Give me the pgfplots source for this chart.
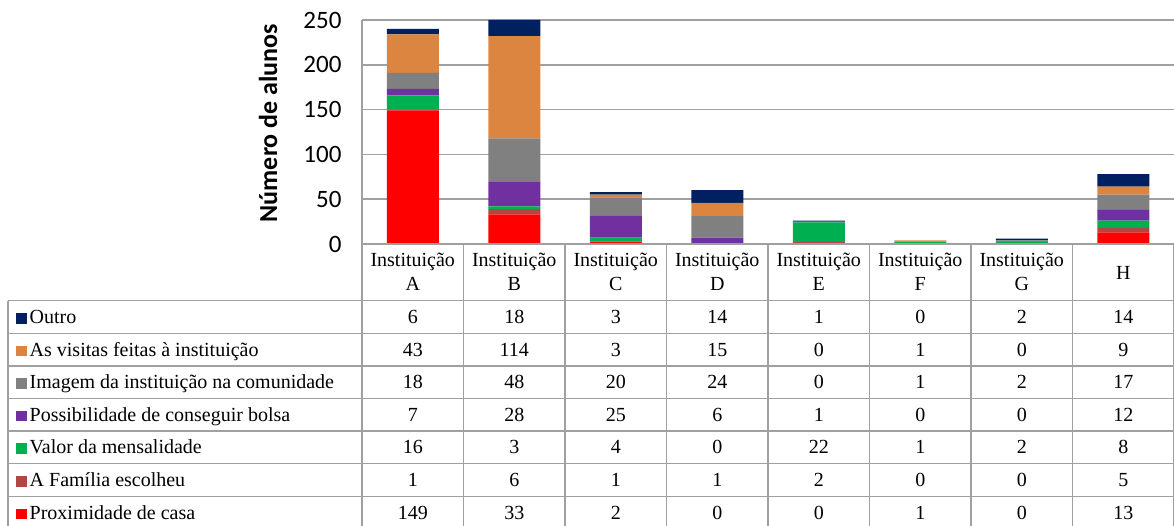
\documentclass[border=0pt]{standalone}
\usepackage{pgfplots}
\usepackage{pgfplotstable}
\pgfplotsset{compat=1.18}
\usepackage{fontspec}
\setmainfont{Liberation Serif}
\newfontfamily\calibri{Carlito}
\definecolor{cOutro}{RGB}{0,32,96}
\definecolor{cVis}{RGB}{220,133,65}
\definecolor{cImg}{RGB}{128,128,128}
\definecolor{cPoss}{RGB}{112,48,160}
\definecolor{cValor}{RGB}{0,176,80}
\definecolor{cFam}{RGB}{178,70,66}
\definecolor{cProx}{RGB}{255,0,0}
\definecolor{gridc}{RGB}{160,160,160}
\pgfplotstableread{
x prox fam valor poss img vis outro
0 149 1 16 7 18 43 6
1 33 6 3 28 48 114 18
2 2 1 4 25 20 3 3
3 0 1 0 6 24 15 14
4 0 2 22 1 0 0 1
5 1 0 1 0 1 1 0
6 0 0 2 0 2 0 2
7 13 5 8 12 17 9 14
}\data
\begin{document}
\begin{tikzpicture}
\begin{axis}[
  at={(0pt,0pt)}, anchor=south west,
  width=812pt, height=224pt, scale only axis,
  xmin=-0.5, xmax=7.5, ymin=0, ymax=250,
  ybar stacked, bar width=52pt,
  xtick=\empty, ytick={0,50,...,250},
  ymajorgrids, grid style={line width=1.5pt, color=gridc},
  axis line style={draw=none},
  major tick length=0pt,
  /pgf/number format/assume math mode=true,
  yticklabel style={font=\calibri\fontsize{25}{30}\selectfont, xshift=-17pt},
]
\addplot[fill=cProx, draw=none] table[x=x,y=prox] \data;
\addplot[fill=cFam, draw=none] table[x=x,y=fam] \data;
\addplot[fill=cValor, draw=none] table[x=x,y=valor] \data;
\addplot[fill=cPoss, draw=none] table[x=x,y=poss] \data;
\addplot[fill=cImg, draw=none] table[x=x,y=img] \data;
\addplot[fill=cVis, draw=none] table[x=x,y=vis] \data;
\addplot[fill=cOutro, draw=none] table[x=x,y=outro] \data;
\end{axis}
% y label
\node[rotate=90, font=\calibri\bfseries\fontsize{26}{30}\selectfont] at (-94pt,121pt) {Número de alunos};
% table lines
\begin{scope}[line width=1.5pt, gridc]
\draw (0pt,224pt) -- (0pt,-290pt);
\foreach \k in {1,...,8} {\draw ({101.5*\k*1pt},0pt) -- ({101.5*\k*1pt},-290pt);}
\draw (0pt,0pt) -- (812pt,0pt);
\foreach \k in {0,...,6} {\draw (-354pt,{(-56.7-32.6*\k)*1pt}) -- (812pt,{(-56.7-32.6*\k)*1pt});}
\draw (-354pt,-56.7pt) -- (-354pt,-290pt);
\end{scope}
% header
\foreach \L [count=\i from 0] in {A,B,C,D,E,F,G} {
  \node[anchor=base, inner sep=0pt, font=\fontsize{20}{24}\selectfont] at ({101.5*(\i+0.5)*1pt},-22.7pt) {Instituição};
  \node[anchor=base, inner sep=0pt, font=\fontsize{20}{24}\selectfont] at ({101.5*(\i+0.5)*1pt},-46.7pt) {\L};
}
\node[anchor=base, inner sep=0pt, font=\fontsize{20}{24}\selectfont] at (761.25pt,-35pt) {H};
% rows
\foreach \col/\lab/\colr [count=\r from 0] in {outro/Outro/cOutro, vis/As visitas feitas à instituição/cVis, img/Imagem da instituição na comunidade/cImg, poss/Possibilidade de conseguir bolsa/cPoss, valor/Valor da mensalidade/cValor, fam/A Família escolheu/cFam, prox/Proximidade de casa/cProx} {
  \pgfmathsetmacro\yb{-56.7-32.6*(\r+0.5)-6.5}
  \node[anchor=base west, inner sep=0pt, font=\fontsize{20}{24}\selectfont] at (-346pt,\yb pt) {\textcolor{\colr}{\rule{10.5pt}{10.5pt}}\hspace{3pt}\lab};
  \foreach \i in {0,...,7} {
    \pgfplotstablegetelem{\i}{\col}\of\data
    \node[anchor=base, inner sep=0pt, font=\fontsize{20}{24}\selectfont] at ({101.5*(\i+0.5)*1pt},\yb pt) {\pgfplotsretval};
  }
}
\pgfresetboundingbox
\path[use as bounding box] (-362pt,-281pt) rectangle (812pt,244pt);
\end{tikzpicture}
\end{document}
